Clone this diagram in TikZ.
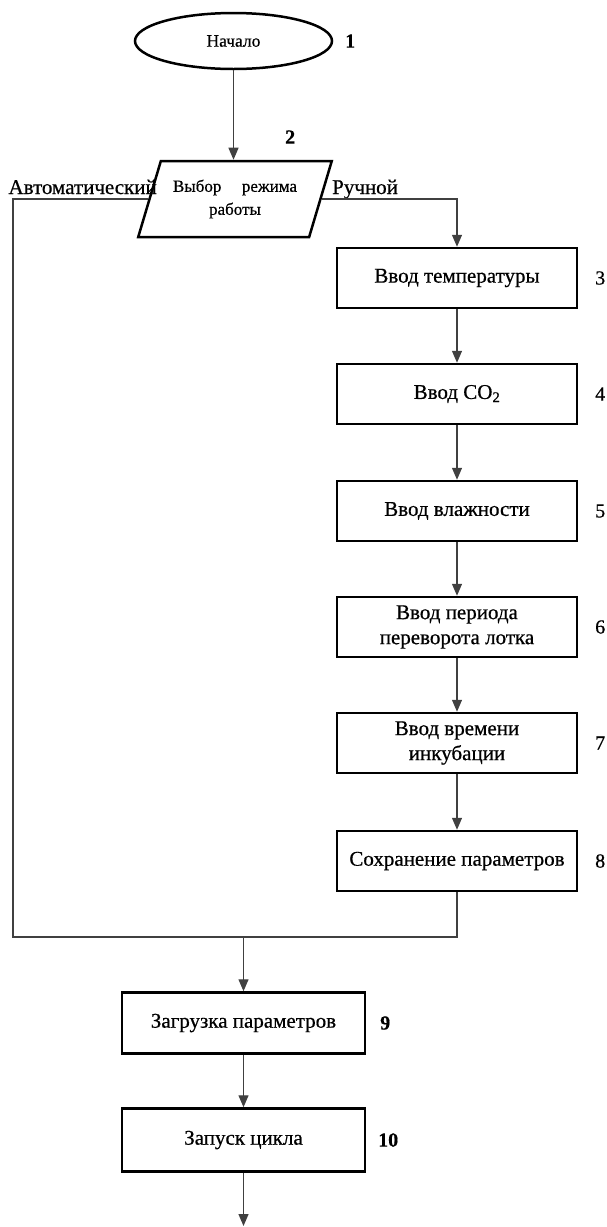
\documentclass[tikz,border=0pt]{standalone}
\usepackage{fontspec}
\setmainfont{Liberation Serif}[FakeBold=0.6]
\usetikzlibrary{shapes.geometric,arrows.meta}
\begin{document}
\begin{tikzpicture}[x=1pt,y=-1pt,
  box/.style={draw, line width=2.5pt, minimum width=240pt, minimum height=60pt, inner sep=2pt, align=center, font=\fontsize{21}{25}\selectfont},
  conn/.style={line width=1.3pt, draw=black!75},
  arr/.style={conn, -{Triangle[length=12pt,width=10pt]}},
  num/.style={font=\fontsize{20}{24}\selectfont, anchor=west, inner sep=0pt},
  bnum/.style={num, font=\fontsize{20}{24}\selectfont\bfseries},
  lbl/.style={font=\fontsize{21}{24}\selectfont, inner sep=0pt}]
\useasboundingbox (0,0) rectangle (607,1227);

\node[ellipse, draw, line width=2.5pt, minimum width=197pt, minimum height=56pt, inner sep=0pt, font=\fontsize{17.5}{20}\selectfont] (start) at (233.5,41) {Начало};
\node[bnum] (n1) at (345,41) {1};

\node[trapezium, trapezium stretches=true, trapezium left angle=64, trapezium right angle=116, draw, line width=2.5pt, minimum width=194pt, minimum height=76pt, inner sep=0pt, align=center, font=\fontsize{17}{23}\selectfont] (p2) at (235,199) {\makebox[124pt][s]{Выбор режима}\\работы};
\node[bnum] (n2) at (285,137) {2};

\node[lbl, anchor=base east] (auto) at (157,194) {Автоматический};
\node[lbl, anchor=base west] (man) at (332,194) {Ручной};

\node[box] (b3) at (457,278) {Ввод температуры};
\node[box] (b4) at (457,394) {Ввод CO\textsubscript{2}};
\node[box] (b5) at (457,511) {Ввод влажности};
\node[box] (b6) at (457,627) {Ввод периода\\переворота лотка};
\node[box] (b7) at (457,743) {Ввод времени\\инкубации};
\node[box] (b8) at (457,861) {Сохранение параметров};
\node[box, minimum width=243pt, minimum height=61pt] (b9) at (243.5,1023) {Загрузка параметров};
\node[box, minimum width=243pt, minimum height=63pt] (b10) at (243.5,1140) {Запуск цикла};

\node[num] (n3) at (595,278) {3};
\node[num] (n4) at (595,394) {4};
\node[num] (n5) at (595,511) {5};
\node[num] (n6) at (595,627) {6};
\node[num] (n7) at (595,743) {7};
\node[num] (n8) at (595,861) {8};
\node[bnum] (n9) at (380,1023) {9};
\node[bnum] (n10) at (378,1140) {10};

\coordinate (lc) at (13,937);
\coordinate (end) at (243.5,1226);

\draw[arr] (start) -- (start |- p2.north);
\draw[arr] (p2.right side) -| (b3);
\draw[conn] (p2.left side) -| (lc) -| (b8.south);
\draw[arr] (b3) -- (b4);
\draw[arr] (b4) -- (b5);
\draw[arr] (b5) -- (b6);
\draw[arr] (b6) -- (b7);
\draw[arr] (b7) -- (b8);
\draw[arr] (b9 |- lc) -- (b9);
\draw[arr] (b9) -- (b10);
\draw[arr] (b10) -- (end);
\end{tikzpicture}
\end{document}
